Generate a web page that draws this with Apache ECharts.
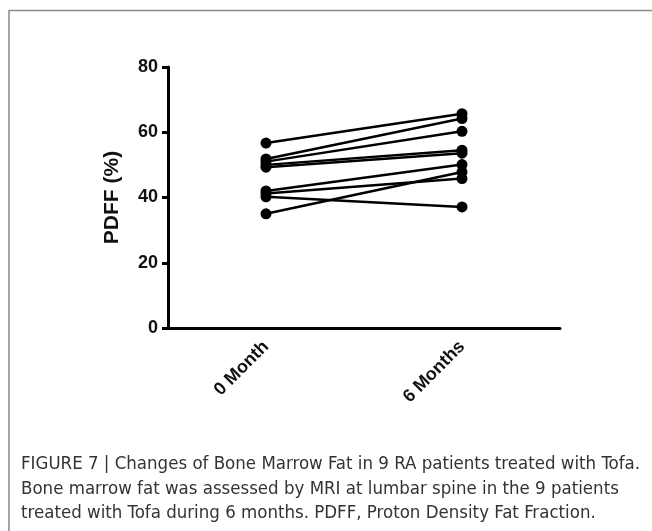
<!DOCTYPE html>
<html>
<head>
<meta charset="utf-8">
<script src="https://cdn.jsdelivr.net/npm/echarts@6/dist/echarts.min.js"></script>
<style>
html,body{margin:0;padding:0;background:#fff;}
#chart{width:652px;height:531px;}
</style>
</head>
<body>
<div id="chart"></div>
<script>
var categories = ['0 Month', '6 Months'];
var month0 = [56.7, 51.8, 51.0, 50.0, 49.3, 42.0, 41.2, 40.2, 35.0];
var month6 = [65.7, 64.2, 60.3, 54.5, 53.6, 50.1, 45.8, 37.1, 47.8];
var yTicks = [0, 20, 40, 60, 80];
var yAxisName = 'PDFF (%)';
var captionLines = [
  'FIGURE 7 | Changes of Bone Marrow Fat in 9 RA patients treated with Tofa.',
  'Bone marrow fat was assessed by MRI at lumbar spine in the 9 patients',
  'treated with Tofa during 6 months. PDFF, Proton Density Fat Fraction.'
];

var series = month0.map(function (v, i) {
  return {
    type: 'line',
    data: [v, month6[i]],
    symbol: 'circle',
    symbolSize: 11,
    itemStyle: { color: '#000' },
    lineStyle: { color: '#000', width: 2.5 },
    emphasis: { disabled: true },
    animation: false
  };
});

var boldFont = '"Liberation Sans", Arial, sans-serif';
var chart = echarts.init(document.getElementById('chart'));
chart.setOption({
  backgroundColor: '#fff',
  animation: false,
  grid: { left: 168, right: 92, top: 67, bottom: 203, containLabel: false },
  xAxis: {
    type: 'category',
    data: categories,
    boundaryGap: true,
    axisLine: { lineStyle: { color: '#000', width: 3 } },
    axisTick: { alignWithLabel: true, length: 6, lineStyle: { color: '#000', width: 3 } },
    axisLabel: {
      rotate: 45, margin: 16, color: '#111',
      fontFamily: boldFont, fontWeight: 'bold', fontSize: 18
    },
    splitLine: { show: false }
  },
  yAxis: {
    type: 'value',
    min: yTicks[0], max: yTicks[yTicks.length - 1], interval: yTicks[1] - yTicks[0],
    name: yAxisName,
    nameLocation: 'middle',
    nameRotate: 90,
    nameGap: 45,
    nameTextStyle: { color: '#111', fontFamily: boldFont, fontWeight: 'bold', fontSize: 21 },
    axisLine: { show: true, lineStyle: { color: '#000', width: 3 } },
    axisTick: { show: true, length: 6, lineStyle: { color: '#000', width: 3 } },
    axisLabel: { margin: 10, color: '#111', fontFamily: boldFont, fontWeight: 'bold', fontSize: 18 },
    splitLine: { show: false }
  },
  series: series,
  graphic: [
    {
      type: 'rect',
      shape: { x: 9, y: 10.5, width: 700, height: 600 },
      style: { fill: 'none', stroke: '#8a8a8a', lineWidth: 1.5 },
      silent: true
    }
  ].concat(captionLines.map(function (t, i) {
    return {
      type: 'text',
      left: 21,
      top: 455 + i * 24.5,
      style: { text: t, fill: '#333', font: '18.5px "DejaVu Sans Condensed", "Noto Sans", sans-serif' },
      silent: true
    };
  }))
});
</script>
</body>
</html>
